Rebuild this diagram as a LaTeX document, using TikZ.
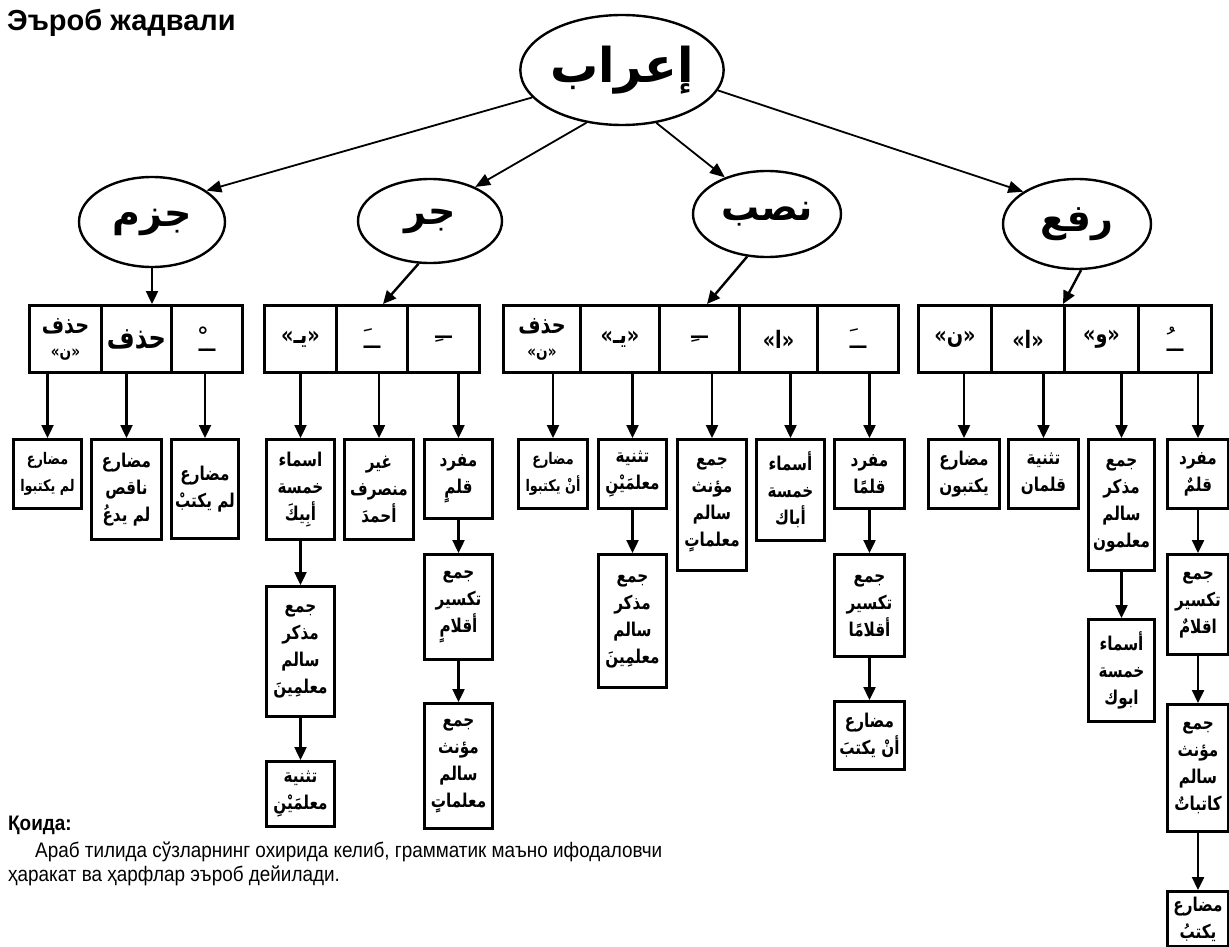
\documentclass[tikz,border=0pt]{standalone}
\usepackage{fontspec}
\setmainfont{Liberation Sans}
\newfontfamily\narrowfont[FakeStretch=0.9]{Liberation Sans}
\newfontfamily\arabicfont[Script=Arabic]{DejaVu Sans}
\newfontfamily\arabicbox[Script=Arabic,FakeStretch=0.8]{DejaVu Sans}
\TeXXeTstate=1
\usetikzlibrary{arrows.meta,shapes.geometric}
\newcommand{\ar}[1]{{\beginR #1\endR}}
\tikzset{
  bx/.style={draw, line width=3pt, anchor=north west, inner sep=0pt, align=center,
    font=\arabicbox\bfseries\fontsize{19}{27}\selectfont},
  small/.style={font=\arabicbox\bfseries\fontsize{16}{27}\selectfont},
  cell/.style={draw, line width=3pt, minimum height=67pt, inner sep=0pt, anchor=north west, align=center,
    font=\arabicbox\bfseries\fontsize{24}{24}\selectfont},
  diac/.style={font=\arabicfont\fontsize{28}{28}\selectfont},
  ell/.style={draw, ellipse, line width=2.4pt, inner sep=0pt, font=\arabicfont\bfseries\fontsize{38}{40}\selectfont},
  arr/.style={line width=2.4pt, -{Triangle[length=13pt,width=12pt]}},
  rarr/.style={line width=1.8pt, -{Triangle[length=15pt,width=12pt]}},
}
\begin{document}
\begin{tikzpicture}[x=1pt,y=-1pt]
\useasboundingbox (0,0) rectangle (1229,947);
% title
\node[anchor=north west, inner sep=0pt, font=\bfseries\fontsize{29}{32}\selectfont] (title) at (7,9) {Эъроб жадвали};
% root and level 2
\node[ell, minimum width=172pt, minimum height=110pt, font=\arabicfont\bfseries\fontsize{48}{50}\selectfont] (root) at (622,70) {\ar{إعراب}};
\node[ell, minimum width=146pt, minimum height=90pt] (jazm) at (152,222) {\ar{جزم}};
\node[ell, minimum width=144pt, minimum height=84pt] (jarr) at (430,221) {\ar{جر}};
\node[ell, minimum width=148pt, minimum height=86pt] (nasb) at (767,214) {\ar{نصب}};
\node[ell, minimum width=148pt, minimum height=90pt] (raf) at (1077,224) {\ar{رفع}};
\draw[rarr] (root.197) -- (jazm.30);
\draw[rarr] (root.236) -- (jarr.37);
\draw[rarr] (root.303) -- (nasb.139);
\draw[rarr] (root.348) -- (raf.149);
% level 3 cells
% jazm
\node[cell, minimum width=72pt] (jc1) at (28,304) {\ar{حذف}\\{\fontsize{17}{18}\selectfont »\ar{ن}«}};
\node[cell, minimum width=70pt, font=\arabicbox\bfseries\fontsize{30}{30}\selectfont] (jc2) at (100,304) {\ar{حذف}};
\node[cell, minimum width=71pt, diac] (jc3) at (170,304) {\ar{ــْ}};
% jarr
\node[cell, minimum width=72pt] (rc1) at (263,304) {»\ar{يـ}«};
\node[cell, minimum width=71pt, diac] (rc2) at (335,304) {\ar{ــَ}};
\node[cell, minimum width=72pt, diac] (rc3) at (406,304) {\ar{ــِ}};
% nasb
\node[cell, minimum width=77pt] (nc1) at (502,304) {\ar{حذف}\\{\fontsize{17}{18}\selectfont »\ar{ن}«}};
\node[cell, minimum width=79pt] (nc2) at (579,304) {»\ar{يـ}«};
\node[cell, minimum width=80pt, diac] (nc3) at (658,304) {\ar{ــِ}};
\node[cell, minimum width=78pt] (nc4) at (738,304) {»\ar{ا}«};
\node[cell, minimum width=81pt, diac] (nc5) at (816,304) {\ar{ــَ}};
% raf
\node[cell, minimum width=73pt] (fc1) at (917,304) {»\ar{ن}«};
\node[cell, minimum width=73pt] (fc2) at (990,304) {»\ar{ا}«};
\node[cell, minimum width=74pt] (fc3) at (1063,304) {»\ar{و}«};
\node[cell, minimum width=73pt, diac] (fc4) at (1137,304) {\ar{ــُ}};
% arrows level 2 -> 3
\coordinate (tJ) at (152,304);
\coordinate (tR) at (383,304);
\coordinate (tN) at (707,304);
\coordinate (tF) at (1063,304);
\draw[arr] (jazm.south) -- (tJ);
\draw[arr] (jarr.255) -- (tR);
\draw[arr] (nasb.245) -- (tN);
\draw[arr] (raf.275) -- (tF);
% level 4 boxes: jazm
\node[bx, small, minimum width=68pt, minimum height=69pt] (J1) at (12,438) {\ar{مضارع}\\\ar{لم يكتبوا}};
\node[bx, minimum width=70pt, minimum height=100pt] (J2) at (90,438) {\ar{مضارع}\\\ar{ناقص}\\\ar{لم يدعُ}};
\node[bx, minimum width=67pt, minimum height=99pt] (J3) at (170,438) {\ar{مضارع}\\\ar{لم يكتبْ}};
% jarr
\node[bx, minimum width=68pt, minimum height=100pt] (R1) at (265,438) {\ar{اسماء}\\\ar{خمسة}\\\ar{أبِيكَ}};
\node[bx, minimum width=69pt, minimum height=100pt] (R2) at (343,438) {\ar{غير}\\\ar{منصرف}\\\ar{أحمدَ}};
\node[bx, minimum width=68pt, minimum height=79pt] (R3) at (423,438) {\ar{مفرد}\\\ar{قلمٍ}};
\node[bx, minimum width=68pt, minimum height=130pt] (R1b) at (265,585) {\ar{جمع}\\\ar{مذكر}\\\ar{سالم}\\\ar{معلمِينَ}};
\node[bx, minimum width=68pt, minimum height=65pt] (R1c) at (265,760) {\ar{تثنية}\\\ar{معلمَيْنِ}};
\node[bx, minimum width=68pt, minimum height=105pt] (R3b) at (423,553) {\ar{جمع}\\\ar{تكسير}\\\ar{أقلامٍ}};
\node[bx, minimum width=68pt, minimum height=125pt] (R3c) at (423,702) {\ar{جمع}\\\ar{مؤنث}\\\ar{سالم}\\\ar{معلماتٍ}};
% nasb
\node[bx, small, minimum width=69pt, minimum height=69pt] (N1) at (517,438) {\ar{مضارع}\\\ar{أنْ يكتبوا}};
\node[bx, minimum width=68pt, minimum height=69pt] (N2) at (597,438) {\ar{تثنية}\\\ar{معلمَيْنِ}};
\node[bx, minimum width=68pt, minimum height=133pt] (N2b) at (597,553) {\ar{جمع}\\\ar{مذكر}\\\ar{سالم}\\\ar{معلمِينَ}};
\node[bx, minimum width=69pt, minimum height=131pt] (N3) at (676,438) {\ar{جمع}\\\ar{مؤنث}\\\ar{سالم}\\\ar{معلماتٍ}};
\node[bx, minimum width=68pt, minimum height=101pt] (N4) at (755,438) {\ar{أسماء}\\\ar{خمسة}\\\ar{أباك}};
\node[bx, minimum width=70pt, minimum height=69pt] (N5) at (833,438) {\ar{مفرد}\\\ar{قلمًا}};
\node[bx, minimum width=70pt, minimum height=102pt] (N5b) at (833,553) {\ar{جمع}\\\ar{تكسير}\\\ar{أقلامًا}};
\node[bx, minimum width=70pt, minimum height=68pt] (N5c) at (833,700) {\ar{مضارع}\\\ar{أنْ يكتبَ}};
% raf
\node[bx, minimum width=71pt, minimum height=69pt] (F1) at (927,438) {\ar{مضارع}\\\ar{يكتبون}};
\node[bx, minimum width=70pt, minimum height=69pt] (F2) at (1007,438) {\ar{تثنية}\\\ar{قلمان}};
\node[bx, minimum width=66pt, minimum height=131pt] (F3) at (1087,438) {\ar{جمع}\\\ar{مذكر}\\\ar{سالم}\\\ar{معلمون}};
\node[bx, minimum width=66pt, minimum height=102pt] (F3b) at (1087,618) {\ar{أسماء}\\\ar{خمسة}\\\ar{ابوك}};
\node[bx, minimum width=61pt, minimum height=69pt] (F4) at (1166,438) {\ar{مفرد}\\\ar{قلمٌ}};
\node[bx, minimum width=61pt, minimum height=100pt] (F4b) at (1166,553) {\ar{جمع}\\\ar{تكسير}\\\ar{اقلامٌ}};
\node[bx, minimum width=61pt, minimum height=127pt] (F4c) at (1166,703) {\ar{جمع}\\\ar{مؤنث}\\\ar{سالم}\\\ar{كاتباتٌ}};
\node[bx, minimum width=61pt, minimum height=55pt] (F4d) at (1166,890) {\ar{مضارع}\\\ar{يكتبُ}};
% arrows level 3 -> 4
\foreach \c/\b in {jc1/J1,jc2/J2,jc3/J3,rc1/R1,rc2/R2,rc3/R3,nc1/N1,nc2/N2,nc3/N3,nc4/N4,nc5/N5,fc1/F1,fc2/F2,fc3/F3,fc4/F4}
  \draw[arr] (\b.north |- \c.south) -- (\b.north);
% chains
\foreach \a/\b in {R1/R1b,R1b/R1c,R3/R3b,R3b/R3c,N2/N2b,N5/N5b,N5b/N5c,F3/F3b,F4/F4b,F4b/F4c,F4c/F4d}
  \draw[arr] (\a.south) -- (\b.north);
% bottom text
\node[anchor=base west, inner sep=0pt, font=\narrowfont\bfseries\fontsize{21}{24}\selectfont] (qoida) at (8,830) {Қоида:};
\node[anchor=base west, inner sep=0pt, font=\narrowfont\fontsize{21}{24}\selectfont] (l1) at (35,857) {Араб тилида сўзларнинг охирида келиб, грамматик маъно ифодаловчи};
\node[anchor=base west, inner sep=0pt, font=\narrowfont\fontsize{21}{24}\selectfont] (l2) at (8,881) {ҳаракат ва ҳарфлар эъроб дейилади.};
\end{tikzpicture}
\end{document}
